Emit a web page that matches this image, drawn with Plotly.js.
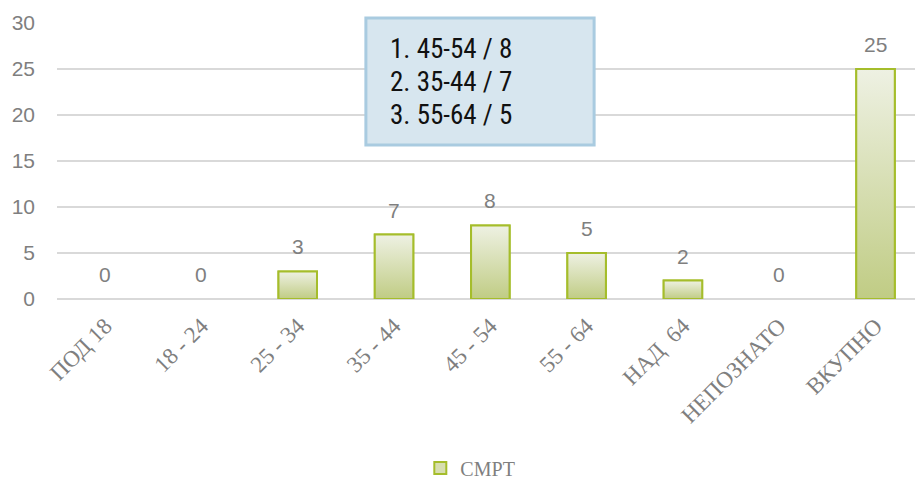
<!DOCTYPE html>
<html><head><meta charset="utf-8">
<script src="https://cdn.plot.ly/plotly-3.0.1.min.js"></script>
<style>html,body{margin:0;padding:0;background:#fff}#c{width:915px;height:479px}</style>
</head><body><div id="c"></div>
<script>
const categories = ["ПОД 18","18 - 24","25 - 34","35 - 44","45 - 54","55 - 64","НАД  64","НЕПОЗНАТО","ВКУПНО"];
const deaths = [0,0,3,7,8,5,2,0,25];
const seriesName = "СМРТ";
const topList = ["1. 45-54 / 8","2. 35-44 / 7","3. 55-64 / 5"];

const idx = categories.map((c,i)=>i);
const half = 0.2;
const green = "#a5bd2b";

const traces = [{
  type:"bar", x: idx, y: deaths.map(v => v > 0 ? v : null), name: seriesName, width: 2*half,
  marker:{color:"#d7deb0", line:{color:green, width:2}},
  hoverinfo:"y"
}];
deaths.forEach((v,i)=>{
  if (v<=0) return;
  traces.push({
    type:"scatter", mode:"lines", showlegend:false, hoverinfo:"skip",
    x:[i-half,i-half,i+half,i+half,i-half], y:[0,v,v,0,0],
    fill:"toself", line:{color:green,width:2},
    fillgradient:{type:"vertical", colorscale:[[0,"#c0cc84"],[1,"#eef1e3"]]}
  });
});

const annotations = deaths.map((v,i)=>({
  x:i, y:v, xref:"x", yref:"y", text:String(v), showarrow:false,
  yanchor:"bottom", yshift:11,
  font:{family:"Liberation Sans, Arial, sans-serif", size:21, color:"#7f7f7f"}
}));
const lineY = [0.906, 0.786, 0.667];
topList.forEach((t,k)=>annotations.push({
  x:0.386, y:lineY[k], xref:"paper", yref:"paper", text:t, showarrow:false,
  xanchor:"left", yanchor:"middle",
  font:{family:"Roboto Condensed, DejaVu Sans Condensed, Roboto, sans-serif", size:27, color:"#111"}
}));

const layout = {
  width:915, height:479,
  margin:{l:57, r:0, t:23, b:180},
  paper_bgcolor:"#fff", plot_bgcolor:"#fff",
  showlegend:true,
  legend:{orientation:"h", xref:"container", yref:"container", x:0.514, xanchor:"center", y:0.023, yanchor:"middle",
    font:{family:"Liberation Serif, serif", size:20, color:"#7f7f7f"}},
  xaxis:{range:[-0.5,8.41], tickmode:"array", tickvals:idx, ticktext:categories,
    tickangle:-45, showgrid:false, zeroline:false, showline:false, ticks:"", automargin:false,
    ticklabelstandoff:8,
    tickfont:{family:"Liberation Serif, serif", size:23, color:"#7f7f7f"}, fixedrange:true},
  yaxis:{range:[0,30], dtick:5, showgrid:true, gridcolor:"#d9d9d9", gridwidth:1.5, automargin:false,
    zeroline:true, zerolinecolor:"#d9d9d9", zerolinewidth:1.5, showline:false, ticks:"",
    ticklabelstandoff:21,
    tickfont:{family:"Liberation Sans, Arial, sans-serif", size:21, color:"#7f7f7f"}},
  shapes:[{type:"rect", xref:"paper", yref:"paper", x0:0.360, x1:0.626, y0:0.558, y1:1.018,
    fillcolor:"#d7e6ef", line:{color:"#a9cbe0", width:3}, layer:"above"}],
  annotations: annotations
};
Plotly.newPlot("c", traces, layout, {displayModeBar:false, staticPlot:true});
</script></body></html>
